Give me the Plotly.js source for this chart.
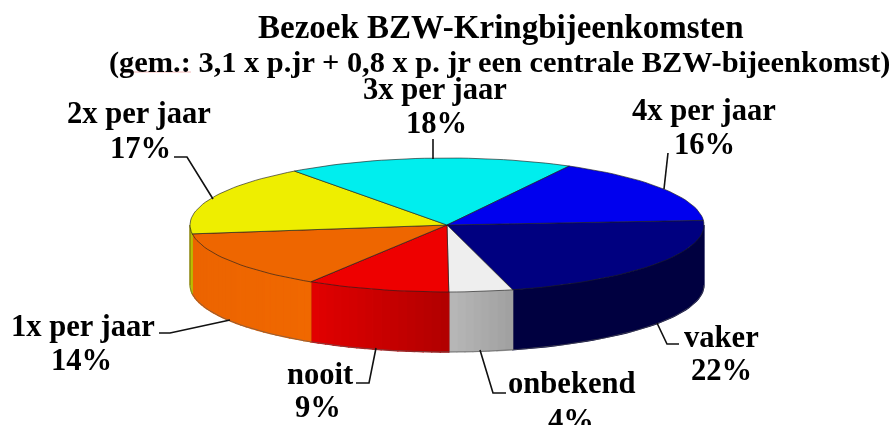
<!DOCTYPE html>
<html>
<head>
<meta charset="utf-8">
<script src="https://cdn.plot.ly/plotly-3.0.1.min.js"></script>
<style>html,body{margin:0;padding:0;background:#fff;overflow:hidden}#c{width:893px;height:425px;filter:blur(0.45px)}</style>
</head>
<body>
<div id="c"></div>
<script>
// Data
const categories = ['vaker', 'onbekend', 'nooit', '1x per jaar', '2x per jaar', '3x per jaar', '4x per jaar'];
const shares = [22, 4, 9, 14, 17, 18, 16];
const titleLines = ['Bezoek BZW-Kringbijeenkomsten', '(gem.: 3,1 x p.jr + 0,8 x p. jr een centrale BZW-bijeenkomst)'];

// Styles
const topColors = ['#000080', '#eeeeee', '#ee0000', '#ee6600', '#eeee00', '#00eeee', '#0000ee'];
const sideFrom = [[0,0,64], [184,184,184], [226,0,0], [236,100,0], [190,190,0], [0,190,190], [0,0,190]];
const sideTo   = [[0,0,64], [160,160,160], [176,0,0], [240,104,0], [190,190,0], [0,190,190], [0,0,190]];

// Pie geometry in pixel-like axis units
const cx = 447, cy = 225, rx = 257, ry = 67, depth = 60, startDeg = 86;
const px = d => cx + rx * Math.sin(d * Math.PI / 180);
const py = d => cy - ry * Math.cos(d * Math.PI / 180);

const total = shares.reduce((a, b) => a + b, 0);
const traces = [];
const poly = (xs, ys, fill, lineColor, lineWidth) => traces.push({
  type: 'scatter', mode: 'lines', x: xs, y: ys, fill: 'toself', fillcolor: fill,
  line: {color: lineColor, width: lineWidth}, hoverinfo: 'skip', showlegend: false
});
const rgb = c => `rgb(${c.map(Math.round).join(',')})`;

let a = startDeg;
const spans = shares.map(s => { const b = a + s / total * 360; const r = [a, b]; a = b; return r; });

// Wall strip between two angles, following the arc
const strip = (d0, d1, c) => {
  const n = Math.max(1, Math.ceil((d1 - d0) / 2));
  const up = [], down = [];
  for (let k = 0; k <= n; k++) {
    const d = d0 + (d1 - d0) * k / n;
    up.push([px(d), py(d)]); down.unshift([px(d), py(d) + depth]);
  }
  const pts = up.concat(down, [up[0]]);
  poly(pts.map(p => p[0]), pts.map(p => p[1]), c, c, 1.3);
};

// Side wall: only the front half of the ellipse (90..270 degrees) is visible
spans.forEach(([s, e], i) => {
  const lo = Math.max(s, 90), hi = Math.min(e, 270);
  if (hi <= lo) return;
  const flat = sideFrom[i].every((v, j) => v === sideTo[i][j]);
  if (flat) {
    strip(lo, hi, rgb(sideFrom[i]));
  } else {
    const n = Math.max(1, Math.ceil((hi - lo) / 2));
    const x0 = px(lo), x1 = px(hi);
    for (let k = 0; k < n; k++) {
      const d0 = lo + (hi - lo) * k / n, d1 = lo + (hi - lo) * (k + 1) / n;
      const t = (px((d0 + d1) / 2) - x1) / ((x0 - x1) || 1); // 0 at screen-left, 1 at screen-right
      strip(d0, d1, rgb(sideFrom[i].map((v, j) => v + (sideTo[i][j] - v) * t)));
    }
  }
  // slice seam on the wall
  traces.push({type: 'scatter', mode: 'lines', x: [px(hi), px(hi)], y: [py(hi), py(hi) + depth],
    line: {color: 'rgba(40,20,20,0.65)', width: 0.8}, hoverinfo: 'skip', showlegend: false});
});

// Bottom outline of the wall
const bx = [], by = [];
for (let d = 90; d <= 270; d += 2) { bx.push(px(d)); by.push(py(d) + depth); }
traces.push({type: 'scatter', mode: 'lines', x: bx, y: by, line: {color: 'rgba(90,90,90,0.8)', width: 0.8},
  hoverinfo: 'skip', showlegend: false});

// Top face
spans.forEach(([s, e], i) => {
  const xs = [cx], ys = [cy];
  const n = Math.ceil((e - s) / 2);
  for (let k = 0; k <= n; k++) { const d = s + (e - s) * k / n; xs.push(px(d)); ys.push(py(d)); }
  xs.push(cx); ys.push(cy);
  poly(xs, ys, topColors[i], 'rgba(30,30,30,0.8)', 0.8);
});

// Leader lines
const leaders = [
  [[174,187,213],[157,157,199]],
  [[433,433],[139,159]],
  [[668,664],[153,189]],
  [[159,170,230],[333,333,320]],
  [[356,369,376],[383,383,348]],
  [[506,493,480],[393,393,350]],
  [[679,667,657],[344,344,323]]
];
const shapes = leaders.map(([xs, ys]) => ({
  type: 'path', xref: 'x', yref: 'y',
  path: xs.map((x, i) => (i ? 'L' : 'M') + x + ',' + ys[i]).join(' '),
  line: {color: '#111', width: 1.6}
}));
// faint spell-check mark under "gem.:"
shapes.push({type: 'line', xref: 'x', yref: 'y', x0: 121, x1: 191, y0: 72, y1: 72, line: {color: '#f2b8b8', width: 1}});

const font = size => ({family: '"Liberation Serif", "Times New Roman", serif', size, color: '#000'});
const note = (text, x, y, size) => ({text, x, y, xref: 'x', yref: 'y', xanchor: 'center', yanchor: 'middle',
  showarrow: false, font: font(size)});
const L = 30.6;
const annotations = [
  note('<b>' + titleLines[0] + '</b>', 501, 27, 33),
  note('<b>' + titleLines[1] + '</b>', 499, 62, 30.4),
  note('<b>' + categories[5] + '</b>', 435, 89, L), note('<b>' + shares[5] + '%</b>', 436, 123, L),
  note('<b>' + categories[4] + '</b>', 139, 113, L), note('<b>' + shares[4] + '%</b>', 140, 148, L),
  note('<b>' + categories[6] + '</b>', 704, 110, L), note('<b>' + shares[6] + '%</b>', 704, 144, L),
  note('<b>' + categories[3] + '</b>', 83, 326, L), note('<b>' + shares[3] + '%</b>', 81, 360, L),
  note('<b>' + categories[2] + '</b>', 320, 374, L), note('<b>' + shares[2] + '%</b>', 318, 407, L),
  note('<b>' + categories[1] + '</b>', 572, 383, L), note('<b>' + shares[1] + '%</b>', 571, 420, L),
  note('<b>' + categories[0] + '</b>', 721, 337, L), note('<b>' + shares[0] + '%</b>', 721, 370, L)
];

Plotly.newPlot('c', traces, {
  width: 893, height: 425, margin: {l: 0, r: 0, t: 0, b: 0},
  paper_bgcolor: '#fff', plot_bgcolor: '#fff', showlegend: false,
  xaxis: {range: [0, 893], visible: false, fixedrange: true},
  yaxis: {range: [425, 0], visible: false, fixedrange: true},
  shapes, annotations
}, {displayModeBar: false, staticPlot: true});
</script>
</body>
</html>
